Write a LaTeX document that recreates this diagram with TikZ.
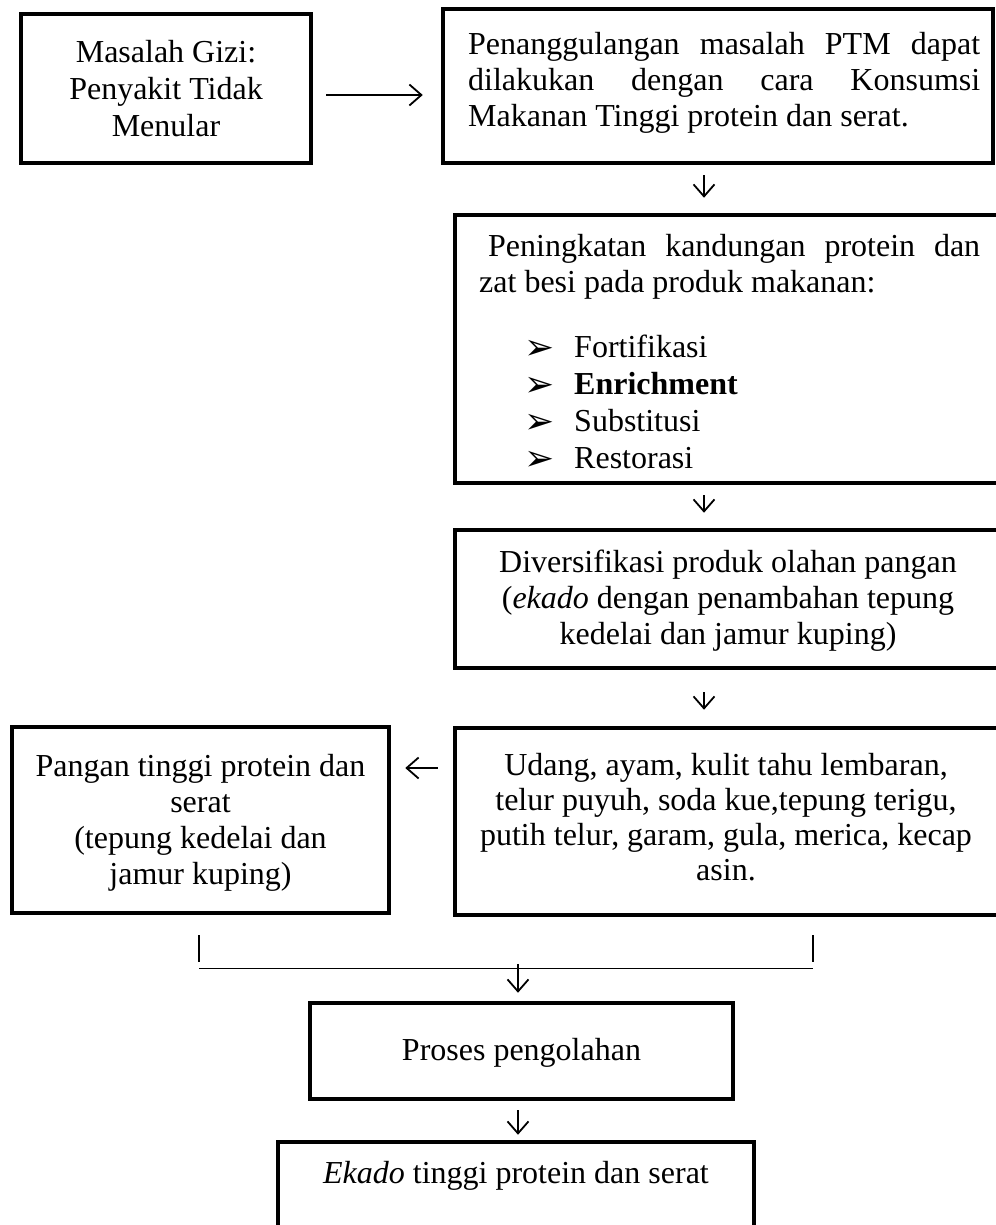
\documentclass[tikz,border=0pt]{standalone}
\usepackage{fontspec}
\setmainfont{Liberation Serif}
\newfontfamily\dejavu{DejaVu Sans}
\usetikzlibrary{arrows.meta,calc}
\begin{document}
\begin{tikzpicture}[x=1pt,y=-1pt,
  box/.style={draw,line width=4.5pt,inner sep=0pt,rectangle},
  txt/.style={anchor=base,inner sep=0pt,font=\fontsize{32}{37}\selectfont},
  txtw/.style={anchor=base west,inner sep=0pt,font=\fontsize{32}{37}\selectfont},
  arr/.style={line width=1.8pt,-{Straight Barb[length=12pt,width=21pt,line width=1.8pt]}},
  thin/.style={line width=1.3pt}]
\useasboundingbox (0,0) rectangle (995,1225);
% boxes
\node[box,minimum width=290pt,minimum height=149pt] (b1) at (166,88.5) {};
\node[box,minimum width=550pt,minimum height=154pt] (b2) at (718,86) {};
\node[box,minimum width=546pt,minimum height=268pt] (b3) at (728,349) {};
\node[box,minimum width=546pt,minimum height=138pt] (b4) at (728,599) {};
\node[box,minimum width=546pt,minimum height=187pt] (b5) at (728,821.5) {};
\node[box,minimum width=377pt,minimum height=186pt] (b6) at (200.5,820) {};
\node[box,minimum width=423pt,minimum height=96pt] (b7) at (521.5,1051) {};
\node[box,minimum width=476pt,minimum height=118pt] (b8) at (516,1201) {};
% texts box 1
\node[txt] (t11) at (166,63) {Masalah Gizi:};
\node[txt] (t12) at (166,100) {Penyakit Tidak};
\node[txt] (t13) at (166,137) {Menular};
% box 2
\node[txtw] (t21) at (468,55) {\makebox[512pt][s]{Penanggulangan masalah PTM dapat}};
\node[txtw] (t22) at (468,91) {\makebox[512pt][s]{dilakukan dengan cara Konsumsi}};
\node[txtw] (t23) at (468,127) {Makanan Tinggi protein dan serat.};
% box 3
\node[txtw] (t31) at (488,256) {\makebox[492pt][s]{Peningkatan kandungan protein dan}};
\node[txtw] (t32) at (479,292) {zat besi pada produk makanan:};
\foreach \y/\w [count=\i] in {357/Fortifikasi,394/\textbf{Enrichment},431/Substitusi,468/Restorasi}{
  \node[anchor=base west,inner sep=0pt,font=\dejavu\fontsize{36}{40}\selectfont] (k\i) at (524,\y+2) {➢};
  \node[txtw] (l\i) at (574,\y) {\w};
}
% box 4
\node[txt] (t41) at (728,572) {Diversifikasi produk olahan pangan};
\node[txt] (t42) at (728,608) {(\textit{ekado} dengan penambahan tepung};
\node[txt] (t43) at (728,644) {kedelai dan jamur kuping)};
% box 5
\node[txt] (t51) at (726,775) {Udang, ayam, kulit tahu lembaran,};
\node[txt] (t52) at (726,810) {telur puyuh, soda kue,tepung terigu,};
\node[txt] (t53) at (726,845) {putih telur, garam, gula, merica, kecap};
\node[txt] (t54) at (726,880) {asin.};
% box 6
\node[txt] (t61) at (200.5,776) {Pangan tinggi protein dan};
\node[txt] (t62) at (200.5,812) {serat};
\node[txt] (t63) at (200.5,848) {(tepung kedelai dan};
\node[txt] (t64) at (200.5,884) {jamur kuping)};
% box 7, 8
\node[txt] (t71) at (521.5,1060) {Proses pengolahan};
\node[txt] (t81) at (516,1183) {\textit{Ekado} tinggi protein dan serat};
% connectors
\draw[arr] ($(b1.east)+(13,6.5)$) -- ($(b2.west)+(-18,9)$);
\draw[arr] ($(b2.south)+(-14,10)$) -- ($(b3.north)+(-24,-15)$);
\draw[arr] ($(b3.south)+(-24,10)$) -- ($(b4.north)+(-24,-15)$);
\draw[arr] ($(b4.south)+(-24,22)$) -- ($(b5.north)+(-24,-16)$);
\draw[arr] ($(b5.west)+(-15,-53.5)$) -- ($(b6.east)+(14,-52)$);
\coordinate (jl) at ($(b6.south)+(-1.5,53)$);
\coordinate (jr) at ($(b5.south)+(85,51)$);
\draw[thin] ($(b6.south)+(-1.5,20)$) -- ($(jl)+(0,-6)$);
\draw[thin] ($(b5.south)+(85,18)$) -- ($(jr)+(0,-6)$);
\draw[thin] (jl) -- (jr);
\draw[arr] ($(b7.north)+(-3.5,-37)$) -- ($(b7.north)+(-3.5,-8)$);
\draw[arr] ($(b7.south)+(-3.5,9)$) -- ($(b8.north)+(2,-5)$);
\end{tikzpicture}
\end{document}
